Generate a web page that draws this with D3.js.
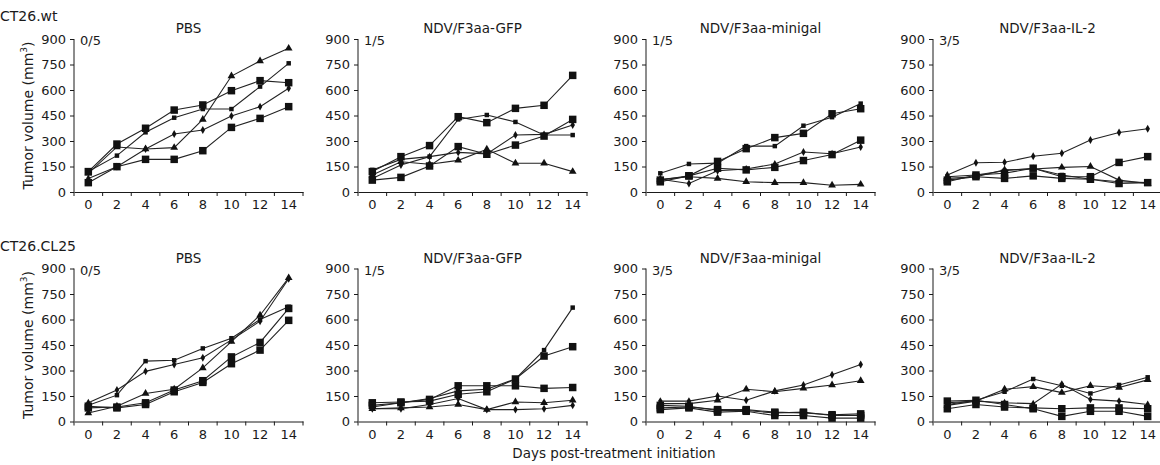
<!DOCTYPE html>
<html>
<head>
<meta charset="utf-8">
<script src="https://cdn.jsdelivr.net/npm/d3@7"></script>
<style>
  body { margin: 0; background: #fff; }
  svg { display: block; font-family: "DejaVu Sans", sans-serif; }
  .tick text { fill: #1a1a1a; }
</style>
</head>
<body>
<div id="chart"></div>
<script>
// Data
var days = [0, 2, 4, 6, 8, 10, 12, 14];
var yTicks = [0, 150, 300, 450, 600, 750, 900];
var rowLabels = ["CT26.wt", "CT26.CL25"];
var treatments = ["PBS", "NDV/F3aa-GFP", "NDV/F3aa-minigal", "NDV/F3aa-IL-2"];
var wtCured = ["0/5", "1/5", "1/5", "3/5"];
var cl25Cured = ["0/5", "1/5", "3/5", "3/5"];

// marker per mouse: tri, sq (small square), dia, big (large square)
var wtPBSMarks = ["tri", "sq", "dia", "big", "big"];
var wtPBS = [
    [110, 265, 253, 261, 427, 682, 771, 845],
    [120, 214, 351, 437, 488, 488, 620, 757],
    [80, 149, 253, 341, 365, 447, 502, 610],
    [120, 282, 375, 482, 512, 596, 655, 643],
    [55, 149, 192, 192, 243, 380, 433, 502]
];
var wtGFPMarks = ["big", "sq", "tri", "dia", "big"];
var wtGFP = [
    [120, 208, 273, 443, 408, 492, 510, 686],
    [130, 192, 208, 427, 453, 412, 335, 335],
    [100, 178, 163, 186, 251, 169, 169, 120],
    [80, 159, 208, 233, 224, 335, 339, 394],
    [70, 86, 153, 267, 222, 276, 329, 427]
];
var wtMinigalMarks = ["big", "big", "sq", "dia", "tri"];
var wtMinigal = [
    [60, 95, 140, 130, 145, 185, 220, 305],
    [70, 95, 180, 255, 320, 345, 460, 490],
    [110, 165, 170, 270, 270, 390, 440, 520],
    [75, 50, 125, 135, 165, 235, 225, 265],
    [75, 90, 80, 60, 55, 55, 40, 45]
];
var wtIL2Marks = ["dia", "big", "tri", "sq", "big"];
var wtIL2 = [
    [100, 172, 175, 210, 228, 306, 350, 372],
    [60, 100, 110, 140, 90, 90, 174, 208],
    [80, 90, 130, 135, 145, 150, 70, 50],
    [90, 100, 125, 140, 100, 75, 60, 55],
    [70, 90, 80, 95, 80, 75, 50, 55]
];
var clPBSMarks = ["sq", "dia", "tri", "big", "big"];
var clPBS = [
    [95, 155, 355, 360, 430, 490, 600, 675],
    [110, 185, 295, 335, 375, 480, 590, 840],
    [50, 90, 165, 190, 315, 470, 625, 845],
    [80, 85, 110, 185, 240, 380, 465, 665],
    [90, 80, 100, 175, 230, 340, 420, 595]
];
var clGFPMarks = ["sq", "big", "big", "tri", "dia"];
var clGFP = [
    [85, 110, 135, 180, 190, 250, 420, 670],
    [110, 115, 120, 160, 175, 250, 385, 440],
    [95, 110, 130, 210, 210, 210, 195, 200],
    [75, 80, 85, 100, 70, 115, 110, 125],
    [75, 75, 100, 135, 70, 70, 75, 95]
];
var clMinigalMarks = ["dia", "tri", "big", "big", "big"];
var clMinigal = [
    [120, 120, 150, 125, 180, 215, 275, 335],
    [105, 105, 125, 190, 175, 195, 215, 240],
    [95, 90, 65, 65, 50, 55, 35, 35],
    [70, 80, 55, 60, 35, 35, 20, 20],
    [80, 85, 70, 70, 55, 50, 40, 45]
];
var clIL2Marks = ["sq", "tri", "dia", "big", "big"];
var clIL2 = [
    [100, 125, 175, 250, 210, 165, 215, 260],
    [95, 120, 190, 205, 170, 210, 200, 245],
    [110, 120, 110, 105, 220, 130, 120, 100],
    [120, 125, 100, 75, 30, 60, 60, 30],
    [75, 100, 85, 80, 75, 80, 80, 75]
];

var rows = [
    { label: rowLabels[0], cured: wtCured,
      panels: [[wtPBS, wtPBSMarks], [wtGFP, wtGFPMarks], [wtMinigal, wtMinigalMarks], [wtIL2, wtIL2Marks]] },
    { label: rowLabels[1], cured: cl25Cured,
      panels: [[clPBS, clPBSMarks], [clGFP, clGFPMarks], [clMinigal, clMinigalMarks], [clIL2, clIL2Marks]] }
];

// layout
var width = 1160, height = 465;
var colX = [74, 358, 646, 933];
var plotW = 229;
var rowTop = [39, 268.5];
var rowBottom = [192, 421.5];
var ink = "#1a1a1a";

var svg = d3.select("#chart").append("svg")
    .attr("width", width)
    .attr("height", height);

var marker = {
    tri: d3.symbol().type(d3.symbolTriangle).size(26),
    sq: d3.symbol().type(d3.symbolSquare).size(20),
    dia: d3.symbol().type(d3.symbolDiamond).size(18),
    big: d3.symbol().type(d3.symbolSquare).size(56)
};

rows.forEach(function (row, r) {
    // row label
    svg.append("text")
        .attr("x", 0)
        .attr("y", r === 0 ? 21 : 251)
        .attr("font-size", 14)
        .attr("fill", ink)
        .text(row.label);

    // y axis title
    var yMid = (rowTop[r] + rowBottom[r]) / 2;
    var yt = svg.append("text")
        .attr("transform", "translate(33," + yMid + ") rotate(-90)")
        .attr("text-anchor", "middle")
        .attr("font-size", 14)
        .attr("fill", ink);
    yt.append("tspan").text("Tumor volume (mm");
    yt.append("tspan").attr("font-size", 9).attr("dy", -6).text("3");
    yt.append("tspan").attr("dy", 6).text(")");

    row.panels.forEach(function (p, c) {
        var series = p[0], marks = p[1];
        var x0 = colX[c];
        var x = d3.scaleBand().domain(days).range([x0, x0 + plotW]).padding(0);
        var y = d3.scaleLinear().domain([0, 900]).range([rowBottom[r], rowTop[r]]);
        var cx = function (d) { return x(d) + x.bandwidth() / 2; };

        var g = svg.append("g");

        // y axis
        var ya = g.append("g")
            .attr("transform", "translate(" + x0 + ",0)")
            .call(d3.axisLeft(y).tickValues(yTicks).tickSize(4).tickSizeOuter(0).tickPadding(4));
        ya.select(".domain").attr("stroke", ink)
            .attr("d", "M0," + y(900) + "V" + (y(0) + 4));
        ya.selectAll(".tick line").attr("stroke", ink);
        ya.selectAll(".tick text").attr("font-size", 13).attr("font-family", "DejaVu Sans");

        // x axis: labels at band centres, ticks at band edges
        var xa = g.append("g")
            .attr("transform", "translate(0," + y(0) + ")")
            .call(d3.axisBottom(x).tickSize(0).tickSizeOuter(0).tickPadding(8));
        xa.select(".domain").attr("stroke", ink);
        xa.selectAll(".tick text").attr("font-size", 13).attr("font-family", "DejaVu Sans");
        xa.selectAll("line.edge")
            .data(days.slice(1).map(function (d) { return x(d); }).concat([x0 + plotW]))
            .enter().append("line")
            .attr("class", "edge")
            .attr("x1", function (d) { return d; })
            .attr("x2", function (d) { return d; })
            .attr("y1", 0).attr("y2", 4)
            .attr("stroke", ink);

        // title and cured fraction
        g.append("text")
            .attr("x", x0 + plotW / 2)
            .attr("y", rowTop[r] - 6)
            .attr("text-anchor", "middle")
            .attr("font-size", 13.5)
            .attr("fill", ink)
            .text(treatments[c]);
        g.append("text")
            .attr("x", x0 + 6)
            .attr("y", rowTop[r] + 6)
            .attr("font-size", 13)
            .attr("fill", ink)
            .text(row.cured[c]);

        var line = d3.line()
            .x(function (d, i) { return cx(days[i]); })
            .y(function (d) { return y(d); });

        g.selectAll("path.mouse")
            .data(series)
            .enter().append("path")
            .attr("class", "mouse")
            .attr("d", line)
            .attr("fill", "none")
            .attr("stroke", "#222")
            .attr("stroke-width", 1.1);

        series.forEach(function (s, k) {
            g.selectAll(null)
                .data(s)
                .enter().append("path")
                .attr("transform", function (d, i) { return "translate(" + cx(days[i]) + "," + y(d) + ")"; })
                .attr("d", marker[marks[k]])
                .attr("fill", "#111");
        });
    });
});

// shared x axis title
svg.append("text")
    .attr("x", 614)
    .attr("y", 458)
    .attr("text-anchor", "middle")
    .attr("font-size", 13.5)
    .attr("fill", ink)
    .text("Days post-treatment initiation");
</script>
</body>
</html>
